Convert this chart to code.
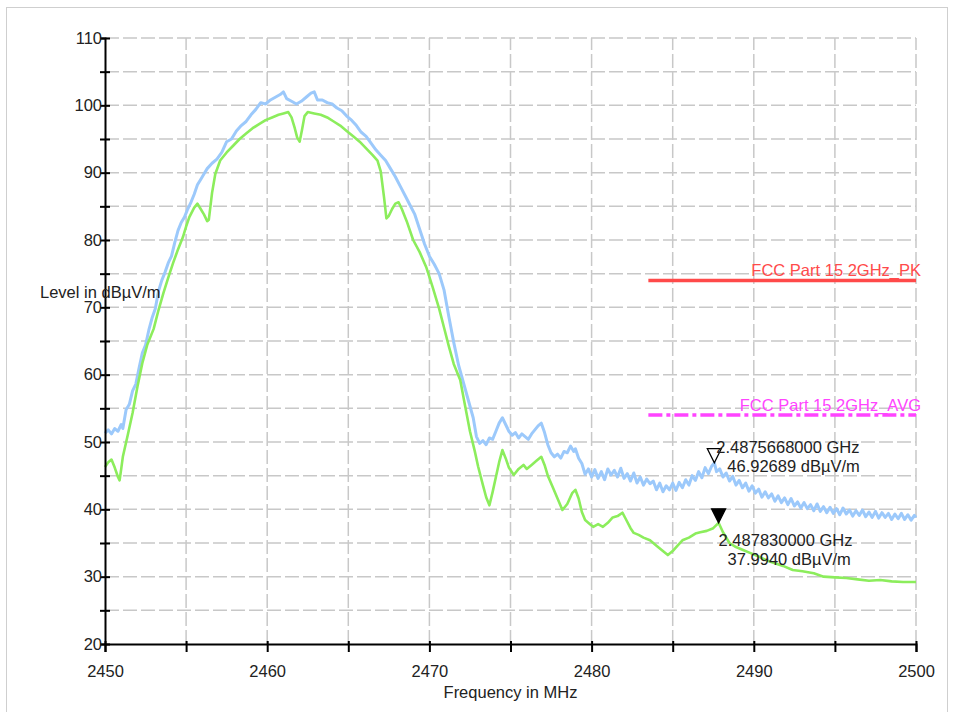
<!DOCTYPE html>
<html>
<head>
<meta charset="utf-8">
<script src="https://cdn.jsdelivr.net/npm/d3@7"></script>
<style>
  body { margin: 0; background: #fff; }
  text { font-family: "Liberation Sans", Arial, sans-serif; }
</style>
</head>
<body>
<div id="chart"></div>
<script>
var width = 954;
var height = 712;

// axis ranges / ticks
var freqDomain = [2450, 2500];
var levelDomain = [20, 110];
var freqTickLabels = [2450, 2460, 2470, 2480, 2490, 2500];
var levelTickLabels = [20, 30, 40, 50, 60, 70, 80, 90, 100, 110];

// peak trace (blue), [MHz, dBuV/m]
var peakTrace = [
  [2450.0, 51.3], [2450.2, 51.8], [2450.4, 51.2], [2450.6, 52.0], [2450.8, 51.6],
  [2451.0, 52.6], [2451.1, 52.0], [2451.3, 54.8], [2451.5, 55.6], [2451.7, 57.6],
  [2451.9, 58.6], [2452.1, 61.0], [2452.3, 63.2], [2452.5, 64.4], [2452.7, 66.6],
  [2452.9, 68.4], [2453.1, 69.8], [2453.3, 72.4], [2453.5, 74.0], [2453.7, 75.2],
  [2453.9, 76.6], [2454.1, 77.6], [2454.3, 79.6], [2454.5, 81.4], [2454.7, 82.6],
  [2454.9, 83.4], [2455.1, 84.6], [2455.3, 85.6], [2455.5, 86.8], [2455.7, 88.2],
  [2455.9, 89.0], [2456.1, 89.8], [2456.3, 90.6], [2456.6, 91.4], [2456.9, 92.0],
  [2457.2, 93.0], [2457.5, 94.6], [2457.8, 95.0], [2458.1, 96.2], [2458.4, 97.0],
  [2458.7, 97.6], [2459.0, 98.6], [2459.3, 99.4], [2459.6, 100.4], [2459.9, 100.2],
  [2460.2, 100.8], [2460.5, 101.2], [2460.8, 101.6], [2461.0, 102.0], [2461.2, 101.0],
  [2461.5, 100.6], [2461.8, 100.2], [2462.1, 100.6], [2462.4, 101.2], [2462.7, 101.8],
  [2462.9, 102.0], [2463.1, 100.8], [2463.4, 100.8], [2463.7, 100.4], [2464.0, 100.2],
  [2464.3, 99.6], [2464.6, 99.2], [2464.9, 98.4], [2465.2, 97.8], [2465.5, 97.0],
  [2465.8, 96.0], [2466.1, 95.4], [2466.4, 94.4], [2466.7, 93.4], [2467.0, 92.6],
  [2467.3, 91.8], [2467.6, 90.6], [2467.9, 89.4], [2468.2, 88.0], [2468.5, 86.6],
  [2468.8, 85.2], [2469.1, 83.8], [2469.4, 81.6], [2469.7, 79.4], [2470.0, 77.6],
  [2470.3, 76.4], [2470.6, 75.0], [2470.9, 72.6], [2471.2, 68.6], [2471.5, 64.8],
  [2471.8, 61.4], [2472.1, 58.8], [2472.4, 56.2], [2472.7, 53.6], [2472.9, 50.8],
  [2473.1, 49.8], [2473.3, 50.2], [2473.5, 49.6], [2473.7, 50.6], [2473.9, 50.4],
  [2474.1, 51.6], [2474.3, 52.8], [2474.5, 53.6], [2474.7, 52.6], [2474.9, 51.6],
  [2475.1, 51.0], [2475.3, 51.4], [2475.5, 50.6], [2475.7, 51.2], [2475.9, 50.8],
  [2476.1, 50.4], [2476.3, 51.2], [2476.5, 51.8], [2476.7, 52.4], [2476.9, 52.8],
  [2477.1, 51.4], [2477.3, 49.6], [2477.5, 48.4], [2477.7, 47.8], [2477.9, 48.2],
  [2478.1, 47.6], [2478.3, 48.6], [2478.5, 48.4], [2478.7, 49.4], [2478.9, 48.6],
  [2479.0, 49.0], [2479.2, 47.6], [2479.4, 46.8], [2479.6, 45.2], [2479.8, 46.0],
  [2480.0, 44.8], [2480.2, 45.9], [2480.4, 44.6], [2480.6, 45.6], [2480.8, 44.4],
  [2481.0, 46.0], [2481.2, 45.1], [2481.4, 45.8], [2481.6, 44.8], [2481.8, 46.1],
  [2482.0, 44.6], [2482.2, 45.3], [2482.4, 44.2], [2482.6, 45.4], [2482.8, 43.9],
  [2483.0, 44.8], [2483.2, 43.6], [2483.4, 44.5], [2483.6, 43.8], [2483.8, 44.2],
  [2484.0, 42.9], [2484.2, 43.9], [2484.4, 42.6], [2484.6, 43.5], [2484.8, 42.9],
  [2485.0, 43.9], [2485.2, 42.8], [2485.4, 44.0], [2485.6, 43.2], [2485.8, 44.4],
  [2486.0, 43.6], [2486.2, 45.0], [2486.4, 44.3], [2486.6, 45.6], [2486.8, 44.7],
  [2487.0, 46.2], [2487.2, 45.3], [2487.4, 46.4], [2487.57, 46.9], [2487.7, 45.6],
  [2487.9, 46.0], [2488.1, 44.8], [2488.3, 45.4], [2488.5, 44.2], [2488.7, 44.9],
  [2488.9, 43.6], [2489.1, 44.3], [2489.3, 43.2], [2489.5, 43.9], [2489.7, 42.7],
  [2489.9, 43.5], [2490.1, 42.4], [2490.3, 43.0], [2490.5, 41.8], [2490.7, 42.6],
  [2490.9, 41.7], [2491.1, 42.3], [2491.3, 41.2], [2491.5, 42.0], [2491.7, 41.0],
  [2491.9, 41.7], [2492.1, 40.7], [2492.3, 41.6], [2492.5, 40.5], [2492.7, 41.1],
  [2492.9, 40.2], [2493.1, 41.0], [2493.3, 40.1], [2493.5, 40.7], [2493.7, 39.8],
  [2493.9, 40.8], [2494.1, 39.7], [2494.3, 40.4], [2494.5, 39.5], [2494.7, 40.3],
  [2494.9, 39.4], [2495.1, 40.1], [2495.3, 39.2], [2495.5, 40.2], [2495.7, 39.3],
  [2495.9, 39.9], [2496.1, 39.0], [2496.3, 39.8], [2496.5, 39.1], [2496.7, 39.9],
  [2496.9, 38.9], [2497.1, 39.6], [2497.3, 38.8], [2497.5, 39.7], [2497.7, 38.7],
  [2497.9, 39.5], [2498.1, 38.8], [2498.3, 39.4], [2498.5, 38.5], [2498.7, 39.3],
  [2498.9, 38.6], [2499.1, 39.4], [2499.3, 38.5], [2499.5, 39.2], [2499.7, 38.4],
  [2499.9, 39.1], [2500.0, 38.8]
];

// average trace (green), [MHz, dBuV/m]
var avgTrace = [
  [2450.0, 46.3], [2450.2, 47.0], [2450.4, 47.4], [2450.6, 46.2], [2450.8, 44.8],
  [2450.9, 44.3], [2451.0, 46.0], [2451.1, 47.8], [2451.4, 51.0], [2451.7, 54.3],
  [2452.0, 58.2], [2452.3, 61.7], [2452.6, 64.4], [2453.0, 66.8], [2453.3, 69.6],
  [2453.6, 72.1], [2453.9, 74.4], [2454.2, 76.6], [2454.5, 78.6], [2454.8, 80.4],
  [2455.0, 82.0], [2455.2, 83.4], [2455.5, 84.8], [2455.7, 85.4], [2455.9, 84.6],
  [2456.1, 83.8], [2456.3, 82.8], [2456.4, 83.0], [2456.6, 87.0], [2456.8, 89.8],
  [2457.1, 91.8], [2457.5, 93.0], [2457.9, 94.0], [2458.3, 95.0], [2458.7, 95.8],
  [2459.1, 96.6], [2459.5, 97.2], [2459.9, 97.8], [2460.3, 98.2], [2460.7, 98.6],
  [2461.0, 98.8], [2461.3, 99.0], [2461.5, 98.2], [2461.7, 96.6], [2461.85, 95.2],
  [2462.0, 94.6], [2462.15, 96.4], [2462.3, 98.4], [2462.5, 99.0], [2462.9, 98.8],
  [2463.3, 98.6], [2463.7, 98.2], [2464.1, 97.6], [2464.5, 97.0], [2464.9, 96.2],
  [2465.3, 95.4], [2465.7, 94.6], [2466.1, 93.6], [2466.5, 92.6], [2466.8, 91.8],
  [2467.0, 90.2], [2467.2, 86.4], [2467.35, 83.2], [2467.5, 83.6], [2467.7, 84.6],
  [2467.9, 85.4], [2468.1, 85.6], [2468.3, 84.6], [2468.6, 82.8], [2469.0, 80.0],
  [2469.4, 78.2], [2469.8, 76.0], [2470.2, 73.0], [2470.6, 69.8], [2470.9, 67.0],
  [2471.2, 64.2], [2471.5, 61.6], [2471.9, 59.2], [2472.2, 55.4], [2472.5, 51.6],
  [2472.8, 48.6], [2473.0, 46.4], [2473.3, 43.6], [2473.5, 41.8], [2473.7, 40.6],
  [2473.9, 42.6], [2474.1, 44.8], [2474.3, 47.0], [2474.5, 48.8], [2474.7, 47.6],
  [2474.9, 46.2], [2475.2, 45.1], [2475.5, 46.0], [2475.8, 46.6], [2476.0, 46.0],
  [2476.3, 46.6], [2476.6, 47.2], [2476.9, 47.8], [2477.1, 46.6], [2477.3, 45.0],
  [2477.6, 43.3], [2477.9, 41.6], [2478.2, 39.9], [2478.5, 40.8], [2478.8, 42.4],
  [2479.0, 42.9], [2479.2, 41.6], [2479.4, 39.6], [2479.6, 38.4], [2479.9, 37.8],
  [2480.1, 37.4], [2480.4, 37.8], [2480.7, 37.4], [2481.0, 38.0], [2481.3, 38.8],
  [2481.6, 39.0], [2481.9, 39.5], [2482.1, 38.6], [2482.4, 37.2], [2482.6, 36.5],
  [2482.9, 36.2], [2483.2, 35.8], [2483.6, 35.4], [2484.0, 34.6], [2484.3, 34.0],
  [2484.7, 33.2], [2485.0, 33.8], [2485.3, 34.6], [2485.6, 35.4], [2486.0, 35.8],
  [2486.4, 36.4], [2486.7, 36.6], [2487.1, 36.8], [2487.5, 37.2], [2487.83, 38.0],
  [2488.1, 36.6], [2488.5, 35.0], [2488.9, 34.4], [2489.3, 34.0], [2489.8, 33.5],
  [2490.3, 33.0], [2490.8, 32.4], [2491.3, 32.0], [2491.8, 31.6], [2492.4, 31.0],
  [2493.0, 30.8], [2493.7, 30.5], [2494.3, 30.0], [2495.0, 29.9], [2495.7, 29.8],
  [2496.4, 29.6], [2497.1, 29.4], [2497.8, 29.5], [2498.5, 29.3], [2499.2, 29.2],
  [2500.0, 29.2]
];

// limit lines: [start MHz, end MHz, level]
var limitPK = [2483.5, 2500, 74];
var limitAVG = [2483.5, 2500, 54];

// markers
var markerPeak = { freq: 2487.5668, level: 46.92689, line1: "2.4875668000 GHz", line2: "46.92689 dBµV/m" };
var markerAvg = { freq: 2487.83, level: 37.994, line1: "2.487830000 GHz", line2: "37.9940 dBµV/m" };

var margin = { top: 38, left: 105, right: 38, bottom: 68 };
var fontSize = 16.5;

var svg = d3
  .select("#chart")
  .append("svg")
  .attr("width", width)
  .attr("height", height);

// outer frame
svg
  .append("rect")
  .attr("x", 6.5)
  .attr("y", 7.5)
  .attr("width", 941)
  .attr("height", 720)
  .attr("fill", "none")
  .attr("stroke", "#cfcfcf");

var x = d3
  .scaleLinear()
  .domain(freqDomain)
  .range([margin.left, width - margin.right]);

var y = d3
  .scaleLinear()
  .domain(levelDomain)
  .range([height - margin.bottom, margin.top]);

var xGridTicks = d3.range(freqDomain[0], freqDomain[1] + 1, 5);
var yGridTicks = d3.range(levelDomain[0], levelDomain[1] + 1, 5);

// grid
svg
  .append("g")
  .selectAll("line")
  .data(xGridTicks.slice(1))
  .enter()
  .append("line")
  .attr("x1", function (d) { return x(d); })
  .attr("x2", function (d) { return x(d); })
  .attr("y1", y(levelDomain[0]))
  .attr("y2", y(levelDomain[1]))
  .attr("stroke", "#c8c8c8")
  .attr("stroke-width", 1.5)
  .attr("stroke-dasharray", "14,4");

svg
  .append("g")
  .selectAll("line")
  .data(yGridTicks.slice(1))
  .enter()
  .append("line")
  .attr("x1", x(freqDomain[0]))
  .attr("x2", x(freqDomain[1]))
  .attr("y1", function (d) { return y(d); })
  .attr("y2", function (d) { return y(d); })
  .attr("stroke", "#c8c8c8")
  .attr("stroke-width", 1.5)
  .attr("stroke-dasharray", "14,4");

// traces
var line = d3
  .line()
  .x(function (d) { return x(d[0]); })
  .y(function (d) { return y(d[1]); });

svg
  .append("path")
  .datum(peakTrace)
  .attr("d", line)
  .attr("fill", "none")
  .attr("stroke", "#9cc9fb")
  .attr("stroke-width", 3)
  .attr("stroke-linejoin", "round");

svg
  .append("path")
  .datum(avgTrace)
  .attr("d", line)
  .attr("fill", "none")
  .attr("stroke", "#8ced5c")
  .attr("stroke-width", 2.6)
  .attr("stroke-linejoin", "round");

// limit lines
svg
  .append("line")
  .attr("x1", x(limitPK[0]))
  .attr("x2", x(limitPK[1]))
  .attr("y1", y(limitPK[2]))
  .attr("y2", y(limitPK[2]))
  .attr("stroke", "#ff4a4a")
  .attr("stroke-width", 3.5);

svg
  .append("text")
  .attr("x", x(limitPK[1]) + 5)
  .attr("y", y(limitPK[2]) - 4)
  .attr("text-anchor", "end")
  .attr("font-size", fontSize)
  .attr("fill", "#ff4a4a")
  .text("FCC Part 15 2GHz_PK");

svg
  .append("line")
  .attr("x1", x(limitAVG[0]))
  .attr("x2", x(limitAVG[1]))
  .attr("y1", y(limitAVG[2]))
  .attr("y2", y(limitAVG[2]))
  .attr("stroke", "#ff44ff")
  .attr("stroke-width", 3.5)
  .attr("stroke-dasharray", "14,4,4,4");

svg
  .append("text")
  .attr("x", x(limitAVG[1]) + 5)
  .attr("y", y(limitAVG[2]) - 4)
  .attr("text-anchor", "end")
  .attr("font-size", fontSize)
  .attr("fill", "#ff44ff")
  .text("FCC Part 15 2GHz_AVG");

// axes
var xAxis = d3
  .axisBottom(x)
  .tickValues(xGridTicks)
  .tickSize(8)
  .tickFormat(function (d) { return freqTickLabels.indexOf(d) >= 0 ? d : ""; });

var gx = svg
  .append("g")
  .attr("transform", "translate(0," + y(levelDomain[0]) + ")")
  .call(xAxis);
gx.select(".domain").attr("stroke", "#000").attr("stroke-width", 2);
gx.selectAll(".tick line").attr("stroke", "#000").attr("stroke-width", 2).attr("y1", -3);
gx.selectAll(".tick text")
  .attr("font-size", fontSize)
  .attr("font-family", "Liberation Sans, Arial, sans-serif")
  .attr("fill", "#222")
  .attr("dy", "1.35em");

var yAxis = d3
  .axisLeft(y)
  .tickValues(yGridTicks)
  .tickSize(5)
  .tickPadding(2)
  .tickFormat(function (d) { return levelTickLabels.indexOf(d) >= 0 ? d : ""; });

var gy = svg
  .append("g")
  .attr("transform", "translate(" + x(freqDomain[0]) + ",0)")
  .call(yAxis);
gy.select(".domain").attr("stroke", "#000").attr("stroke-width", 2);
gy.selectAll(".tick line").attr("stroke", "#000").attr("stroke-width", 2).attr("x2", 5).attr("x1", -5);
gy.selectAll(".tick text")
  .attr("font-size", fontSize)
  .attr("font-family", "Liberation Sans, Arial, sans-serif")
  .attr("fill", "#222")
  .attr("x", -3);

// axis titles
svg
  .append("text")
  .attr("x", 40)
  .attr("y", 298)
  .attr("font-size", fontSize)
  .attr("fill", "#222")
  .text("Level in dBµV/m");

svg
  .append("text")
  .attr("x", (x(freqDomain[0]) + x(freqDomain[1])) / 2)
  .attr("y", 698)
  .attr("text-anchor", "middle")
  .attr("font-size", fontSize)
  .attr("fill", "#222")
  .text("Frequency in MHz");

// markers
function drawMarker(m, filled, dx1, dy1, dx2, dy2) {
  var px = x(m.freq);
  var py = y(m.level);
  svg
    .append("path")
    .attr("d", "M" + (px - 7) + "," + (py - 14) + "L" + (px + 7) + "," + (py - 14) + "L" + px + "," + py + "Z")
    .attr("fill", filled ? "#000" : "#fff")
    .attr("stroke", "#000")
    .attr("stroke-width", 1.3);
  svg
    .append("text")
    .attr("x", px + dx1)
    .attr("y", py + dy1)
    .attr("font-size", fontSize)
    .attr("fill", "#222")
    .text(m.line1);
  svg
    .append("text")
    .attr("x", px + dx2)
    .attr("y", py + dy2)
    .attr("font-size", fontSize)
    .attr("fill", "#222")
    .text(m.line2);
}

drawMarker(markerPeak, false, 2, -10, 13, 9);
drawMarker(markerAvg, true, 0, 23, 9, 42);
</script>
</body>
</html>
